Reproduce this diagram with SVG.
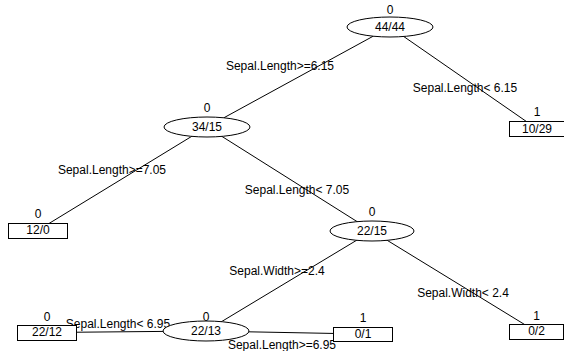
<svg xmlns="http://www.w3.org/2000/svg" width="564" height="351" viewBox="0 0 564 351">
<style>
text{font-family:"Liberation Sans",Arial,sans-serif;font-size:12px;fill:#000;text-anchor:middle}
.e{fill:#fff;stroke:#000;stroke-width:1}
.b{fill:#fff;stroke:#000;stroke-width:1}
#edges line{stroke:#000;stroke-width:1}
</style>
<rect width="564" height="351" fill="#fff"/>
<g id="edges">
<line x1="390" y1="27" x2="207" y2="127"/>
<line x1="390" y1="27" x2="536.5" y2="128.5"/>
<line x1="207" y1="127" x2="37.5" y2="230.5"/>
<line x1="207" y1="127" x2="372" y2="231"/>
<line x1="372" y1="231" x2="206" y2="331"/>
<line x1="372" y1="231" x2="536" y2="331.5"/>
<line x1="206" y1="331" x2="46.5" y2="332.5"/>
<line x1="206" y1="331" x2="362.5" y2="334"/>
</g>
<g id="edge-labels">
<text x="280" y="70">Sepal.Length&gt;=6.15</text>
<text x="465" y="92">Sepal.Length&lt; 6.15</text>
<text x="112" y="174">Sepal.Length&gt;=7.05</text>
<text x="297" y="194">Sepal.Length&lt; 7.05</text>
<text x="277" y="275">Sepal.Width&gt;=2.4</text>
<text x="463" y="297">Sepal.Width&lt; 2.4</text>
<text x="118" y="328">Sepal.Length&lt; 6.95</text>
<text x="282" y="349">Sepal.Length&gt;=6.95</text>
</g>
<g id="n1"><ellipse class="e" cx="390" cy="27" rx="43" ry="10"/><text x="390" y="14">0</text><text x="390" y="31">44/44</text></g>
<g id="n2"><ellipse class="e" cx="207" cy="127" rx="43" ry="10"/><text x="207" y="112">0</text><text x="207" y="131">34/15</text></g>
<g id="n3"><rect class="b" x="509.5" y="121.5" width="55" height="15"/><text x="537" y="116">1</text><text x="537" y="133">10/29</text></g>
<g id="n4"><rect class="b" x="8.5" y="223.5" width="59" height="15"/><text x="38" y="218">0</text><text x="38" y="234">12/0</text></g>
<g id="n5"><ellipse class="e" cx="372" cy="231" rx="42" ry="10"/><text x="372" y="216">0</text><text x="372" y="235">22/15</text></g>
<g id="n6"><rect class="b" x="509.5" y="324.5" width="54" height="15"/><text x="536.5" y="320">1</text><text x="536.5" y="335">0/2</text></g>
<g id="n7"><ellipse class="e" cx="206" cy="331" rx="43" ry="10"/><text x="206" y="321">0</text><text x="206" y="335">22/13</text></g>
<g id="n8"><rect class="b" x="17.5" y="325.5" width="59" height="15"/><text x="47" y="321">0</text><text x="47" y="336">22/12</text></g>
<g id="n9"><rect class="b" x="333.5" y="327.5" width="59" height="14"/><text x="363" y="322">1</text><text x="363" y="338">0/1</text></g>
</svg>
